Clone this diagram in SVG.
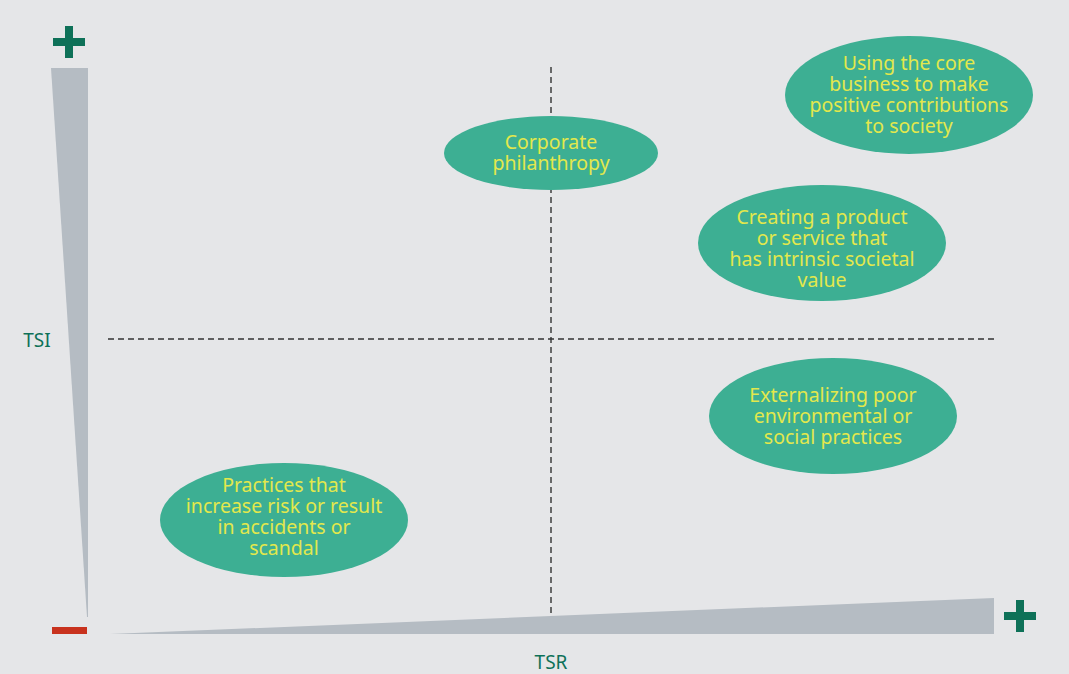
<svg xmlns="http://www.w3.org/2000/svg" width="1069" height="674" viewBox="0 0 1069 674">
<style>
.bg{fill:#e5e6e8}
.wedge{fill:#b5bcc3}
.plus{fill:#0e7158}
.minus{fill:#c8321e}
.dash{stroke:#333333;stroke-width:1.4;stroke-dasharray:6 4;fill:none}
.ell{fill:#3daf93}
.lbl{font-family:"Noto Sans",sans-serif;font-size:19.5px;fill:#e3e84c;text-anchor:middle}
.axis{font-family:"Noto Sans",sans-serif;font-size:19px;fill:#0e7158;text-anchor:middle}
</style>
<rect class="bg" x="0" y="0" width="1069" height="674"/>
<g id="axes">
<polygon class="wedge" points="51,68 88,68 88,617 87,617"/>
<polygon class="wedge" points="110,634 994,598 994,634"/>
<rect class="plus" x="53" y="38" width="32" height="8"/>
<rect class="plus" x="65" y="26" width="8" height="32"/>
<rect class="minus" x="52" y="627" width="35" height="7"/>
<rect class="plus" x="1004" y="612" width="32" height="8"/>
<rect class="plus" x="1016" y="600" width="8" height="32"/>
<text class="axis" x="37" y="347">TSI</text>
<text class="axis" x="551" y="669">TSR</text>
</g>
<g id="connectors">
<line class="dash" x1="551" y1="67" x2="551" y2="617"/>
<line class="dash" x1="108" y1="339" x2="995" y2="339"/>
</g>
<g id="node-philanthropy">
<ellipse class="ell" cx="551" cy="153" rx="107" ry="37"/>
<text class="lbl" x="551" y="149">Corporate</text>
<text class="lbl" x="551" y="170">philanthropy</text>
</g>
<g id="node-corebusiness">
<ellipse class="ell" cx="909" cy="95" rx="124" ry="59"/>
<text class="lbl" x="909" y="70">Using the core</text>
<text class="lbl" x="909" y="91">business to make</text>
<text class="lbl" x="909" y="112">positive contributions</text>
<text class="lbl" x="909" y="133">to society</text>
</g>
<g id="node-product">
<ellipse class="ell" cx="822" cy="243" rx="124" ry="58"/>
<text class="lbl" x="822" y="224">Creating a product</text>
<text class="lbl" x="822" y="245">or service that</text>
<text class="lbl" x="822" y="266">has intrinsic societal</text>
<text class="lbl" x="822" y="287">value</text>
</g>
<g id="node-externalizing">
<ellipse class="ell" cx="833" cy="416" rx="124" ry="58"/>
<text class="lbl" x="833" y="402">Externalizing poor</text>
<text class="lbl" x="833" y="423">environmental or</text>
<text class="lbl" x="833" y="444">social practices</text>
</g>
<g id="node-practices">
<ellipse class="ell" cx="284" cy="520" rx="124" ry="57"/>
<text class="lbl" x="284" y="492">Practices that</text>
<text class="lbl" x="284" y="513">increase risk or result</text>
<text class="lbl" x="284" y="534">in accidents or</text>
<text class="lbl" x="284" y="555">scandal</text>
</g>
</svg>
